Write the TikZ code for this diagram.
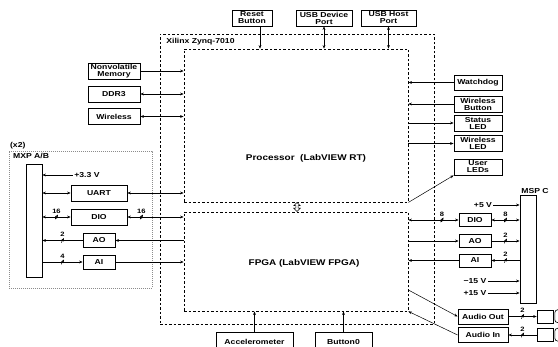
\documentclass[tikz,border=0pt]{standalone}
\usepackage{fontspec}
\setmainfont{Liberation Sans}[FakeStretch=1.2]
\usetikzlibrary{arrows.meta, positioning, shapes.arrows, calc}
\tikzstyle{box} = [rectangle, draw, line width=0.8pt, inner sep=0pt, align=center, font=\bfseries\fontsize{7.2}{7}\selectfont]
\tikzstyle{chip} = [rectangle, draw, dash pattern=on 2.5pt off 2pt, line width=0.8pt, inner sep=0pt]
\tikzstyle{zone} = [rectangle, draw=black!45, dash pattern=on 0.8pt off 1.2pt, line width=0.6pt, inner sep=0pt]
\tikzstyle{bar} = [rectangle, draw, line width=0.8pt, inner sep=0pt, minimum width=16pt]
\tikzstyle{jack} = [rectangle, draw, line width=0.6pt, inner sep=0pt, minimum width=16pt, minimum height=13pt]
\tikzstyle{note} = [inner sep=1.2pt, font=\bfseries\fontsize{7.2}{8}\selectfont]
\tikzstyle{title} = [inner sep=0pt, font=\bfseries\fontsize{8.3}{9}\selectfont]
\tikzstyle{link} = [draw, shape=double arrow, shape border rotate=90, minimum height=9pt, minimum width=6.5pt, double arrow head extend=1.2pt, inner sep=0.4pt, line width=0.5pt, fill=white]
\tikzstyle{arrow} = [line width=0.5pt, -{Stealth[length=3.5pt, width=2.8pt]}]
\tikzstyle{dblarrow} = [line width=0.5pt, {Stealth[length=3.5pt, width=2.8pt]}-{Stealth[length=3.5pt, width=2.8pt]}]
\tikzstyle{bus} = [inner sep=0pt, minimum width=3pt, minimum height=5pt, path picture={\draw[line width=0.5pt] (path picture bounding box.south west) -- (path picture bounding box.north east);}]
\tikzstyle{buswidth} = [inner sep=0.8pt, font=\bfseries\fontsize{6.3}{7}\selectfont]

\begin{document}
\begin{tikzpicture}[x=1pt, y=-1pt]
  \useasboundingbox (0,0) rectangle (558,347);
  \clip (0,0) rectangle (558,347);

  % Zynq chip and its two halves
  \node[chip, minimum width=274pt, minimum height=290pt] (zynq) at (297,179) {};
  \node[note, anchor=west] (zynqname) at (165,42) {Xilinx Zynq-7010};
  \node[chip, minimum width=224pt, minimum height=153pt] (processor) at (296,125.5) {};
  \node[chip, minimum width=224pt, minimum height=99pt] (fpga) at (296,261.5) {};
  \node[title] (proctitle) at (306,158) {Processor\ \ (LabVIEW RT)};
  \node[title] (fpgatitle) at (304,263) {FPGA (LabVIEW FPGA)};
  \node[link] (axi) at (297,207) {};

  % top and bottom peripherals
  \node[box, minimum width=40pt, minimum height=16pt] (reset) at (252,18) {Reset\\Button};
  \node[box, minimum width=56pt, minimum height=16pt] (usbdev) at (324,18) {USB Device\\Port};
  \node[box, minimum width=55pt, minimum height=16pt] (usbhost) at (388.5,18) {USB Host\\Port};
  \node[box, minimum width=77pt, minimum height=20pt] (accel) at (254.5,342) {Accelerometer};
  \node[box, minimum width=57pt, minimum height=20pt] (button0) at (343.5,342) {Button0};

  % left peripherals
  \node[box, minimum width=52pt, minimum height=16pt] (nvmem) at (114,71) {Nonvolatile\\Memory};
  \node[box, minimum width=52pt, minimum height=16pt] (ddr) at (114,94) {DDR3};
  \node[box, minimum width=52pt, minimum height=16pt] (wlan) at (114,116.5) {Wireless};

  % right peripherals
  \node[box, minimum width=48pt, minimum height=15pt] (watchdog) at (478,82.5) {Watchdog};
  \node[box, minimum width=48pt, minimum height=16pt] (wbutton) at (478,104) {Wireless\\Button};
  \node[box, minimum width=48pt, minimum height=16pt] (statusled) at (478,123) {Status\\LED};
  \node[box, minimum width=48pt, minimum height=16pt] (wled) at (478,143.5) {Wireless\\LED};
  \node[box, minimum width=48pt, minimum height=16pt] (userled) at (478,167) {User\\LEDs};

  % MXP connectors
  \node[zone, minimum width=143pt, minimum height=137pt] (mxp) at (80.5,219.5) {};
  \node[note, anchor=south west] (mxpcount) at (mxp.north west) {(x2)};
  \node[note, anchor=north west] (mxpname) at ([xshift=3pt,yshift=-1.5pt]mxp.north west) {MXP A/B};
  \node[bar, minimum height=113pt] (mxpbar) at (34,220.5) {};
  \node[note] (v33) at (87,175) {+3.3 V};
  \node[box, minimum width=56pt, minimum height=16pt] (uart) at (99,193) {UART};
  \node[box, minimum width=56pt, minimum height=16pt] (diol) at (99,217) {DIO};
  \node[box, minimum width=32pt, minimum height=14pt] (aol) at (99,240.5) {AO};
  \node[box, minimum width=32pt, minimum height=14pt] (ail) at (99,262) {AI};

  % MSP connector
  \node[bar, minimum height=108pt] (mspbar) at (528,249) {};
  \node[note, anchor=south] (mspname) at ([xshift=7pt]mspbar.north) {MSP C};
  \node[note] (v5) at (483,205) {+5 V};
  \node[box, minimum width=32pt, minimum height=13pt] (dior) at (475,220) {DIO};
  \node[box, minimum width=32pt, minimum height=13pt] (aor) at (475,241) {AO};
  \node[box, minimum width=32pt, minimum height=13pt] (air) at (475,260.5) {AI};
  \node[note] (vneg15) at (475,281) {−15 V};
  \node[note] (vpos15) at (475,293) {+15 V};
  \node[box, minimum width=50pt, minimum height=15pt] (audioout) at (483,316.5) {Audio Out};
  \node[box, minimum width=50pt, minimum height=15pt] (audioin) at (483,335) {Audio In};
  \node[jack] (jackout) at (545,316.5) {};
  \node[jack] (jackin) at (545,335) {};
  \draw[line width=0.6pt, rounded corners=3pt] ([xshift=1.5pt]jackout.north east) rectangle ++(9,13);
  \draw[line width=0.6pt, rounded corners=3pt] ([xshift=1.5pt]jackin.north east) rectangle ++(9,13);

  % processor links
  \draw[arrow] ([xshift=8pt]reset.south) -- ([xshift=8pt]reset.south |- processor.north);
  \draw[dblarrow] (usbdev.south) -- (usbdev.south |- processor.north);
  \draw[dblarrow] (usbhost.south) -- (usbhost.south |- processor.north);
  \draw[arrow] (nvmem.east) -- (nvmem.east -| processor.west);
  \draw[dblarrow] (ddr.east) -- (ddr.east -| processor.west);
  \draw[dblarrow] (wlan.east) -- (wlan.east -| processor.west);
  \draw[arrow] (watchdog.west) -- (watchdog.west -| processor.east);
  \draw[arrow] (wbutton.west) -- (wbutton.west -| processor.east);
  \draw[arrow] (statusled.west -| processor.east) -- (statusled.west);
  \draw[arrow] (wled.west -| processor.east) -- (wled.west);
  \draw[arrow] (processor.south east) -- (userled.south west);

  % MXP links
  \draw[arrow] (v33.west) -- (v33.west -| mxpbar.east);
  \draw[dblarrow] (uart.west -| mxpbar.east) -- (uart.west);
  \draw[dblarrow] (uart.east) -- (uart.east -| processor.west);
  \draw[dblarrow] (diol.west -| mxpbar.east) -- node[bus, label={[buswidth]above:16}] {} (diol.west);
  \draw[dblarrow] (diol.east) -- node[bus, pos=0.25, label={[buswidth]above:16}] {} (diol.east -| fpga.west);
  \draw[arrow] (aol.east -| fpga.west) -- (aol.east);
  \draw[arrow] (aol.west) -- node[bus, label={[buswidth]above:2}] {} (aol.west -| mxpbar.east);
  \draw[arrow] (ail.west -| mxpbar.east) -- node[bus, label={[buswidth]above:4}] {} (ail.west);
  \draw[arrow] (ail.east) -- (ail.east -| fpga.west);

  % MSP links
  \draw[arrow] (v5.east) -- (v5.east -| mspbar.west);
  \draw[dblarrow] (dior.west -| fpga.east) -- node[bus, pos=0.67, label={[buswidth]above:8}] {} (dior.west);
  \draw[dblarrow] (dior.east) -- node[bus, label={[buswidth]above:8}] {} (dior.east -| mspbar.west);
  \draw[arrow] (aor.west -| fpga.east) -- (aor.west);
  \draw[arrow] (aor.east) -- node[bus, label={[buswidth]above:2}] {} (aor.east -| mspbar.west);
  \draw[arrow] (air.east -| mspbar.west) -- node[bus, label={[buswidth]above:2}] {} (air.east);
  \draw[arrow] (air.west) -- (air.west -| fpga.east);
  \draw[arrow] (vneg15.east) -- (vneg15.east -| mspbar.west);
  \draw[arrow] (vpos15.east) -- (vpos15.east -| mspbar.west);

  % audio and bottom links
  \draw[arrow] ([yshift=-28.5pt]fpga.east) -- (audioout.west);
  \draw[arrow] (audioout.east) -- node[bus, label={[buswidth]above:2}] {} (jackout.west);
  \draw[arrow] (jackin.west) -- node[bus, label={[buswidth]above:2}] {} (audioin.east);
  \draw[arrow] (audioin.west) -- (fpga.south east);
  \draw[arrow] (accel.north) -- (accel.north |- fpga.south);
  \draw[arrow] (button0.north) -- (button0.north |- fpga.south);
\end{tikzpicture}
\end{document}
